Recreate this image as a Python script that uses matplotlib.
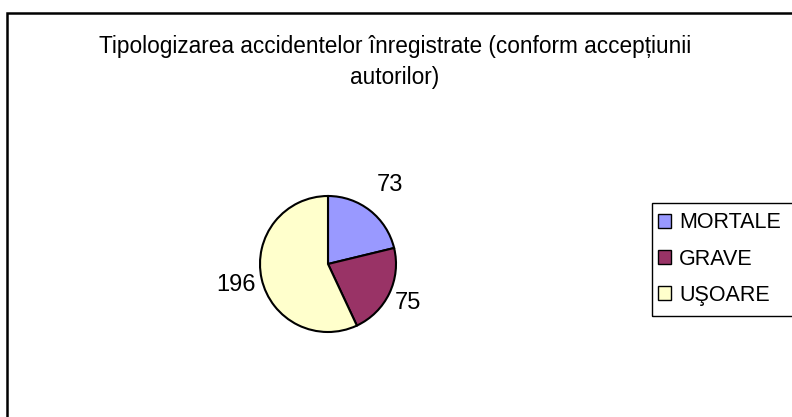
import matplotlib
matplotlib.use('Agg')
import matplotlib.pyplot as plt
import numpy as np
from matplotlib.patches import Rectangle

plt.rcParams['font.family'] = ['Liberation Sans', 'DejaVu Sans']

# data
categories = ['MORTALE', 'GRAVE', 'UŞOARE']
counts = [73, 75, 196]
colors = ['#9999ff', '#993366', '#ffffcc']
title = 'Tipologizarea accidentelor înregistrate (conform accepțiunii\nautorilor)'

# how far each value label sits from the centre (in radii)
label_dist = [1.47, 1.31, 1.39]

W, H = 792, 417
fig = plt.figure(figsize=(W / 100, H / 100), dpi=100)

# outer chart frame (runs off the right and bottom edges)
fig.patches.append(Rectangle((7 / W, -0.05), 1.2, 1 - 13 / H + 0.05,
                             transform=fig.transFigure, fill=False,
                             edgecolor='black', linewidth=1.8))

fig.text(395 / W, 1 - 62 / H, title, ha='center', va='center',
         fontsize=16.3, linespacing=1.4)

# pie axes centred at (328, 264), radius ~68 px
r = 68
cx, cy = 328, 264
ax = fig.add_axes([(cx - r) / W, 1 - (cy + r) / H, 2 * r / W, 2 * r / H])
wedges, _ = ax.pie(counts, colors=colors, startangle=90, counterclock=False,
                   wedgeprops=dict(edgecolor='black', linewidth=1.5))
ax.set_xlim(-1, 1)
ax.set_ylim(-1, 1)
ax.set_aspect('equal')
ax.set_axis_off()

for w, c, d in zip(wedges, counts, label_dist):
    t = np.deg2rad((w.theta1 + w.theta2) / 2)
    ax.text(d * np.cos(t), d * np.sin(t), str(c), ha='center', va='center',
            fontsize=17, clip_on=False)

# legend box (cut off at right edge like the source)
fig.patches.append(Rectangle((652 / W, 1 - 316 / H), 0.3, 113 / H,
                             transform=fig.transFigure, fill=False,
                             edgecolor='black', linewidth=1.0))
leg = fig.legend(wedges, categories, loc='upper left',
                 bbox_to_anchor=(652 / W, 1 - 206 / H), fontsize=15.5,
                 frameon=False, handlelength=0.6, handleheight=0.6,
                 handletextpad=0.35, labelspacing=0.7, borderpad=0.3,
                 borderaxespad=0)
for h in leg.legend_handles:
    h.set_linewidth(1.0)

fig.savefig('out.png', dpi=100)
